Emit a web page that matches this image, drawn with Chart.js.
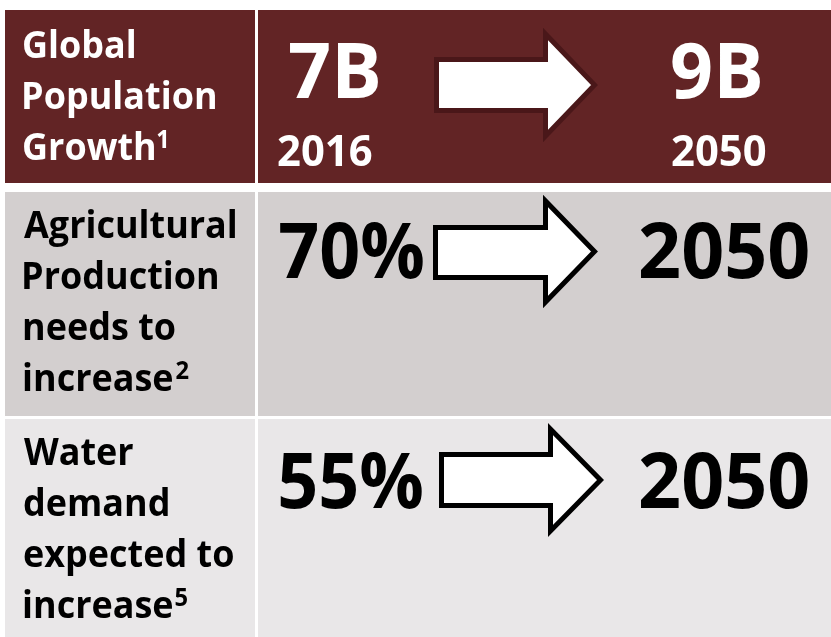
<!DOCTYPE html>
<html>
<head>
<meta charset="utf-8">
<script src="https://cdn.jsdelivr.net/npm/chart.js@4/dist/chart.umd.min.js"></script>
<style>
  html, body { margin: 0; padding: 0; background: #ffffff; }
  #wrap { width: 831px; height: 637px; position: relative; }
</style>
</head>
<body>
<div id="wrap"><canvas id="myChart"></canvas></div>
<script>
// table content
var rowLabels = [
	['Global', 'Population', 'Growth'],
	['Agricultural', 'Production', 'needs to', 'increase'],
	['Water', 'demand', 'expected to', 'increase']
];
var rowNotes = ['1', '2', '5'];
var fromValues = ['7B', '70%', '55%'];
var toValues = ['9B', '2050', '2050'];
var fromYears = ['2016', '', ''];
var toYears = ['2050', '', ''];

// layout (scale units = page pixels)
var colEdges = [[5, 255], [258, 831]];
var rowEdges = [[10, 183], [192, 416], [419, 637]];
var rowFill = ['#622425', '#d3cfcf', '#e9e7e8'];
var rowInk = ['#ffffff', '#000000', '#000000'];
var arrowEdge = ['#4a1719', '#000000', '#000000'];
var labelX = 24, labelBase = [58, 238, 465], lineStep = 51;
var fromPos = [[290, 98], [280, 278], [280, 508]];
var toPos = [[672, 98], [640, 278], [640, 508]];
var yearPos = [[278, 166], [672, 166]];
// shaft left, shaft top, shaft bottom, head back, head top, head bottom, tip
var arrows = [
	[434, 57, 113, 543, 28, 142, 598],
	[433, 225, 280, 543, 195, 308, 598],
	[439, 452, 508, 548, 423, 537, 604]
];

var FAMILY = '"Open Sans", Lato, sans-serif';

// font size + horizontal squeeze so that ref string hits cap height / ink width
function fitFont(ctx, cap, ref, width){
	ctx.font = 'bold 100px ' + FAMILY;
	var capRatio = ctx.measureText('H').actualBoundingBoxAscent / 100;
	var size = cap / capRatio;
	ctx.font = 'bold ' + size + 'px ' + FAMILY;
	var m = ctx.measureText(ref);
	var ink = m.actualBoundingBoxRight + m.actualBoundingBoxLeft;
	return {size: size, sx: width / ink};
}

function putText(ctx, str, x, base, f){
	ctx.font = 'bold ' + f.size + 'px ' + FAMILY;
	var m = ctx.measureText(str);
	ctx.save();
	ctx.translate(x, base);
	ctx.scale(f.sx, 1);
	ctx.fillText(str, m.actualBoundingBoxLeft, 0);
	ctx.restore();
	return x + (m.actualBoundingBoxRight + m.actualBoundingBoxLeft) * f.sx;
}

var tablePlugin = {
	id: 'infoTable',
	beforeDatasetsDraw: function(chart){
		var ctx = chart.ctx;
		var xs = chart.scales.x, ys = chart.scales.y;
		var X = function(v){ return xs.getPixelForValue(v); };
		var Y = function(v){ return ys.getPixelForValue(v); };

		ctx.save();
		// cells
		for(var r = 0; r < rowLabels.length; r++){
			ctx.fillStyle = rowFill[r];
			for(var c = 0; c < colEdges.length; c++){
				ctx.fillRect(X(colEdges[c][0]), Y(rowEdges[r][0]),
					X(colEdges[c][1]) - X(colEdges[c][0]), Y(rowEdges[r][1]) - Y(rowEdges[r][0]));
			}
		}

		var fLabel = fitFont(ctx, 27, 'Population', 191);
		var fBig = fitFont(ctx, 56, '2050', 168);
		var fPct = fitFont(ctx, 56, '70%', 143);
		var fYear = fitFont(ctx, 31, '2016', 94);
		var fSup = {size: fLabel.size * 0.66, sx: fLabel.sx};
		ctx.textBaseline = 'alphabetic';
		ctx.textAlign = 'left';

		for(r = 0; r < rowLabels.length; r++){
			ctx.fillStyle = rowInk[r];
			var lines = rowLabels[r];
			var endX = 0, b = 0;
			for(var i = 0; i < lines.length; i++){
				b = Y(labelBase[r] + i * lineStep);
				endX = putText(ctx, lines[i], X(labelX), b, fLabel);
			}
			putText(ctx, rowNotes[r], endX + 3, b - 12, fSup);

			var fv = fromValues[r].indexOf('%') >= 0 ? fPct : fBig;
			putText(ctx, fromValues[r], X(fromPos[r][0]), Y(fromPos[r][1]), fv);
			putText(ctx, toValues[r], X(toPos[r][0]), Y(toPos[r][1]), fBig);
			if(fromYears[r]) putText(ctx, fromYears[r], X(yearPos[0][0]), Y(yearPos[0][1]), fYear);
			if(toYears[r]) putText(ctx, toYears[r], X(yearPos[1][0]), Y(yearPos[1][1]), fYear);

			// arrow, outer edge measured so pull path in by half the stroke
			var a = arrows[r], h = 2.5;
			var mid = (a[4] + a[5]) / 2;
			ctx.beginPath();
			ctx.moveTo(X(a[0] + h), Y(a[1] + h));
			ctx.lineTo(X(a[3] + h), Y(a[1] + h));
			ctx.lineTo(X(a[3] + h), Y(a[4] + h * 2.4));
			ctx.lineTo(X(a[6] - h * 1.4), Y(mid));
			ctx.lineTo(X(a[3] + h), Y(a[5] - h * 2.4));
			ctx.lineTo(X(a[3] + h), Y(a[2] - h));
			ctx.lineTo(X(a[0] + h), Y(a[2] - h));
			ctx.closePath();
			ctx.fillStyle = '#ffffff';
			ctx.fill();
			ctx.lineWidth = 5;
			ctx.lineJoin = 'miter';
			ctx.strokeStyle = arrowEdge[r];
			ctx.stroke();
		}
		ctx.restore();
	}
};

var ctx = document.getElementById('myChart');
var myChart = new Chart(ctx, {
	type: 'bar',
	data: { labels: [], datasets: [] },
	options: {
		responsive: true,
		maintainAspectRatio: false,
		animation: false,
		layout: { padding: 0 },
		plugins: { legend: { display: false }, tooltip: { enabled: false } },
		scales: {
			x: { type: 'linear', min: 0, max: 831, offset: false, display: false },
			y: { type: 'linear', min: 0, max: 637, reverse: true, offset: false, display: false }
		}
	},
	plugins: [tablePlugin]
});
</script>
</body>
</html>
